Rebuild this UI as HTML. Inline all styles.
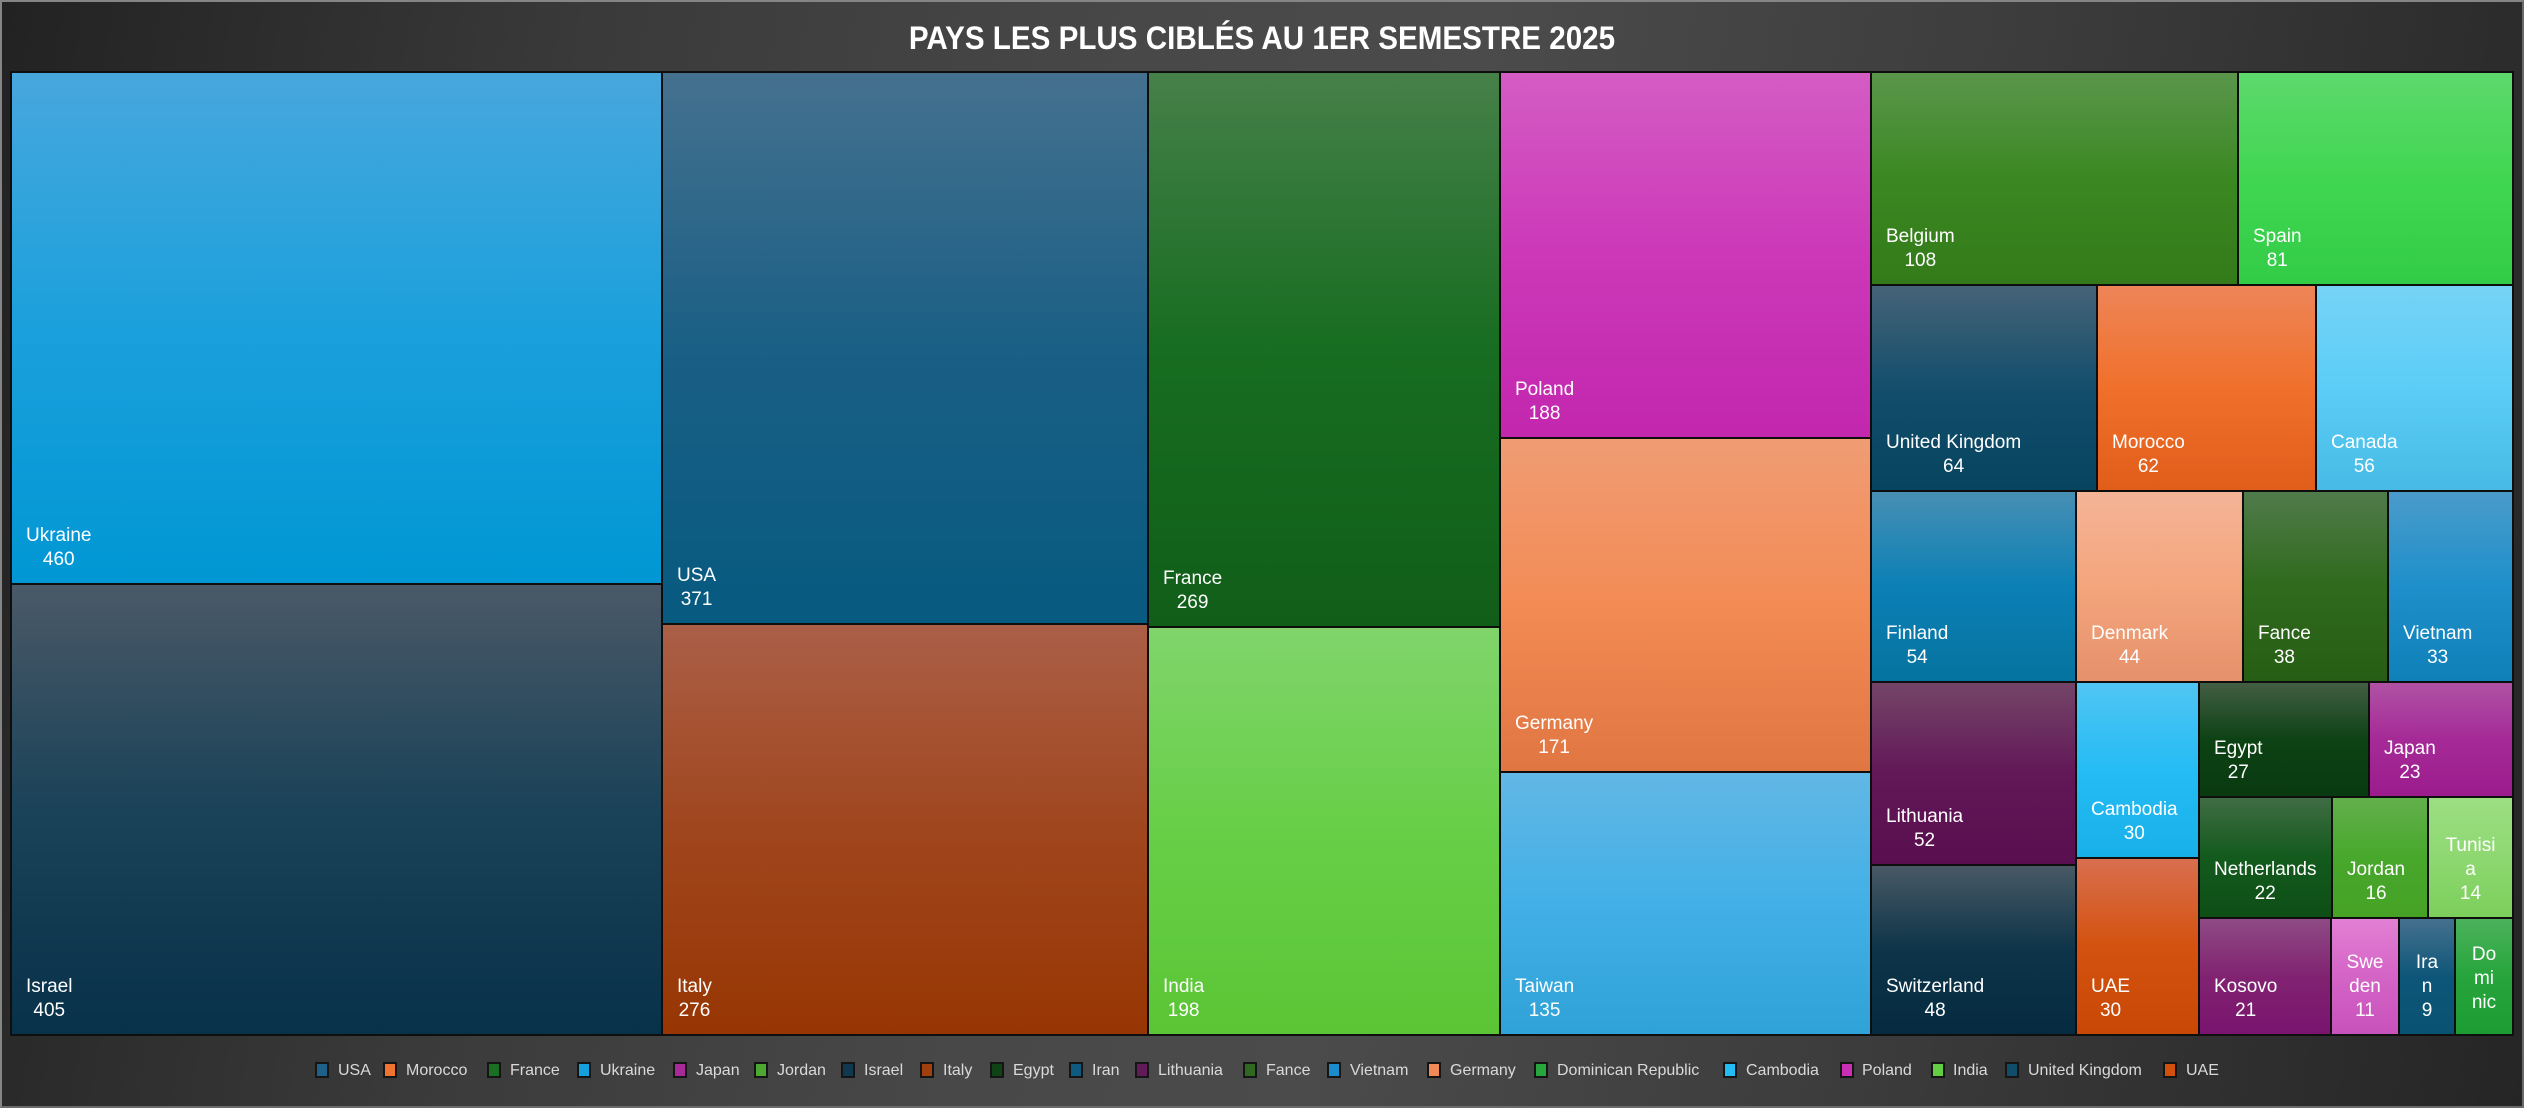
<!DOCTYPE html>
<html>
<head>
<meta charset="utf-8">
<style>
  html, body { margin:0; padding:0; }
  body {
    width:2524px; height:1108px; overflow:hidden; position:relative;
    background: linear-gradient(100deg, #222222 0%, #3a3a3a 22%, #484848 42%, #4b4b4b 55%, #3c3c3c 75%, #252525 100%);
    font-family: "Liberation Sans", sans-serif;
  }
  .frame { position:absolute; left:0; top:0; width:2524px; height:1108px; box-sizing:border-box; border:2px solid #858585; border-right-color:#6a6a6a; border-bottom-color:#6a6a6a; }
  .title {
    position:absolute; left:0; top:22px; width:2524px; text-align:center;
    font: bold 32px/32px "Liberation Sans", sans-serif; color:#ffffff;
    transform: scaleX(0.925); transform-origin: 1262px 0;
    white-space:nowrap;
  }
  .tm { position:absolute; left:10px; top:71px; width:2504px; height:965px; box-sizing:border-box; border:1px solid #0f0f0f; }
  .r { position:absolute; box-sizing:border-box; border:1px solid #0e0e0e; overflow:hidden; }
  .l { position:absolute; left:14px; bottom:11px; text-align:center; font:19px/24px "Liberation Sans", sans-serif; color:#ffffff; white-space:nowrap; }
  .c { left:0; right:0; }
  .lg { position:absolute; top:1061px; font:16px/20px "Liberation Sans", sans-serif; color:#d9d9d9; white-space:nowrap; }
  .sw { position:absolute; top:1062px; width:14px; height:16px; box-sizing:border-box; border:2px solid #151515; }
</style>
</head>
<body>
<div class="frame"></div>
<div class="title">PAYS LES PLUS CIBLÉS AU 1ER SEMESTRE 2025</div>

<div class="tm"></div>

<!-- Column 1 -->
<div class="r" style="left:11px;top:72px;width:651px;height:512px;background:linear-gradient(to bottom,#47a7dd 0%,#1ba0dc 50%,#0097d4 100%);">
  <div class="l">Ukraine<br>460</div></div>
<div class="r" style="left:11px;top:584px;width:651px;height:451px;background:linear-gradient(to bottom,#4a5967 0%,#1a4258 50%,#08314a 100%);">
  <div class="l">Israel<br>405</div></div>

<!-- Column 2 -->
<div class="r" style="left:662px;top:72px;width:486px;height:552px;background:linear-gradient(to bottom,#45718f 0%,#1a5f85 50%,#075a80 100%);">
  <div class="l">USA<br>371</div></div>
<div class="r" style="left:662px;top:624px;width:486px;height:411px;background:linear-gradient(to bottom,#ab5f47 0%,#a0461e 50%,#973603 100%);">
  <div class="l">Italy<br>276</div></div>

<!-- Column 3 -->
<div class="r" style="left:1148px;top:72px;width:352px;height:555px;background:linear-gradient(to bottom,#468049 0%,#176d21 50%,#115e19 100%);">
  <div class="l">France<br>269</div></div>
<div class="r" style="left:1148px;top:627px;width:352px;height:408px;background:linear-gradient(to bottom,#80d46b 0%,#67cf47 50%,#5bc535 100%);">
  <div class="l">India<br>198</div></div>

<!-- Column 4 -->
<div class="r" style="left:1500px;top:72px;width:371px;height:366px;background:linear-gradient(to bottom,#d45cc4 0%,#cc38b8 50%,#c227ae 100%);">
  <div class="l">Poland<br>188</div></div>
<div class="r" style="left:1500px;top:438px;width:371px;height:334px;background:linear-gradient(to bottom,#f09c74 0%,#f38b55 50%,#e07642 100%);">
  <div class="l">Germany<br>171</div></div>
<div class="r" style="left:1500px;top:772px;width:371px;height:263px;background:linear-gradient(to bottom,#62b7e5 0%,#42b0e6 50%,#2fa2d8 100%);">
  <div class="l">Taiwan<br>135</div></div>

<!-- Right block row 1 -->
<div class="r" style="left:1871px;top:72px;width:367px;height:213px;background:linear-gradient(to bottom,#5a964b 0%,#3b8822 50%,#347a1a 100%);">
  <div class="l">Belgium<br>108</div></div>
<div class="r" style="left:2238px;top:72px;width:275px;height:213px;background:linear-gradient(to bottom,#5ed96d 0%,#40d651 50%,#33cc46 100%);">
  <div class="l">Spain<br>81</div></div>

<!-- row 2 -->
<div class="r" style="left:1871px;top:285px;width:226px;height:206px;background:linear-gradient(to bottom,#456377 0%,#134e6c 50%,#06445f 100%);">
  <div class="l">United Kingdom<br>64</div></div>
<div class="r" style="left:2097px;top:285px;width:219px;height:206px;background:linear-gradient(to bottom,#ee8558 0%,#f0702b 50%,#e05d1a 100%);">
  <div class="l">Morocco<br>62</div></div>
<div class="r" style="left:2316px;top:285px;width:197px;height:206px;background:linear-gradient(to bottom,#76d3f6 0%,#5bcdf7 50%,#47bbe5 100%);">
  <div class="l">Canada<br>56</div></div>

<!-- row 3 -->
<div class="r" style="left:1871px;top:491px;width:205px;height:191px;background:linear-gradient(to bottom,#478fb4 0%,#0b80b5 50%,#06739f 100%);">
  <div class="l">Finland<br>54</div></div>
<div class="r" style="left:2076px;top:491px;width:167px;height:191px;background:linear-gradient(to bottom,#f4b497 0%,#f4a57c 50%,#e5916b 100%);">
  <div class="l">Denmark<br>44</div></div>
<div class="r" style="left:2243px;top:491px;width:145px;height:191px;background:linear-gradient(to bottom,#507b4a 0%,#2f6a1d 50%,#275e15 100%);">
  <div class="l">Fance<br>38</div></div>
<div class="r" style="left:2388px;top:491px;width:125px;height:191px;background:linear-gradient(to bottom,#4a9bcb 0%,#1e8fca 50%,#0f80b8 100%);">
  <div class="l">Vietnam<br>33</div></div>

<!-- lower block -->
<div class="r" style="left:1871px;top:682px;width:205px;height:183px;background:linear-gradient(to bottom,#744568 0%,#621857 50%,#590f4f 100%);">
  <div class="l">Lithuania<br>52</div></div>
<div class="r" style="left:1871px;top:865px;width:205px;height:170px;background:linear-gradient(to bottom,#485964 0%,#0d3449 50%,#062b40 100%);">
  <div class="l">Switzerland<br>48</div></div>
<div class="r" style="left:2076px;top:682px;width:123px;height:176px;background:linear-gradient(to bottom,#50c5f2 0%,#25bcf5 50%,#18b0e8 100%);">
  <div class="l">Cambodia<br>30</div></div>
<div class="r" style="left:2076px;top:858px;width:123px;height:177px;background:linear-gradient(to bottom,#d86f4f 0%,#d4520f 50%,#c94805 100%);">
  <div class="l">UAE<br>30</div></div>

<div class="r" style="left:2199px;top:682px;width:170px;height:115px;background:linear-gradient(to bottom,#435e44 0%,#0d4214 50%,#093a10 100%);">
  <div class="l">Egypt<br>27</div></div>
<div class="r" style="left:2369px;top:682px;width:144px;height:115px;background:linear-gradient(to bottom,#b052a4 0%,#a52a97 50%,#9c1c8d 100%);">
  <div class="l">Japan<br>23</div></div>

<div class="r" style="left:2199px;top:797px;width:133px;height:121px;background:linear-gradient(to bottom,#406c44 0%,#135a1d 50%,#0e4e16 100%);">
  <div class="l">Netherlands<br>22</div></div>
<div class="r" style="left:2332px;top:797px;width:96px;height:121px;background:linear-gradient(to bottom,#62b04b 0%,#48a82c 50%,#45a225 100%);">
  <div class="l">Jordan<br>16</div></div>
<div class="r" style="left:2428px;top:797px;width:85px;height:121px;background:linear-gradient(to bottom,#9cde83 0%,#8ed871 50%,#7ccf5b 100%);">
  <div class="l c">Tunisi<br>a<br>14</div></div>

<div class="r" style="left:2199px;top:918px;width:132px;height:117px;background:linear-gradient(to bottom,#8e4b85 0%,#812371 50%,#7a1470 100%);">
  <div class="l">Kosovo<br>21</div></div>
<div class="r" style="left:2331px;top:918px;width:68px;height:117px;background:linear-gradient(to bottom,#e280d4 0%,#d464c6 50%,#c852bb 100%);">
  <div class="l c">Swe<br>den<br>11</div></div>
<div class="r" style="left:2399px;top:918px;width:56px;height:117px;background:linear-gradient(to bottom,#45718e 0%,#0e5679 50%,#0a5272 100%);">
  <div class="l c">Ira<br>n<br>9</div></div>
<div class="r" style="left:2455px;top:918px;width:58px;height:117px;background:linear-gradient(to bottom,#4bb25b 0%,#27a53c 50%,#1c9c32 100%);">
  <div class="l c" style="bottom:19px;">Do<br>mi<br>nic</div></div>

<!-- Legend -->
<div class="sw" style="left:315px;background:#1d6189;"></div><div class="lg" style="left:338px;">USA</div>
<div class="sw" style="left:383px;background:#f07430;"></div><div class="lg" style="left:406px;">Morocco</div>
<div class="sw" style="left:487px;background:#1a6f25;"></div><div class="lg" style="left:510px;">France</div>
<div class="sw" style="left:577px;background:#14a0dd;"></div><div class="lg" style="left:600px;">Ukraine</div>
<div class="sw" style="left:673px;background:#a82a99;"></div><div class="lg" style="left:696px;">Japan</div>
<div class="sw" style="left:754px;background:#4ca830;"></div><div class="lg" style="left:777px;">Jordan</div>
<div class="sw" style="left:841px;background:#10384f;"></div><div class="lg" style="left:864px;">Israel</div>
<div class="sw" style="left:920px;background:#a0400f;"></div><div class="lg" style="left:943px;">Italy</div>
<div class="sw" style="left:990px;background:#0f4316;"></div><div class="lg" style="left:1013px;">Egypt</div>
<div class="sw" style="left:1069px;background:#0f5a80;"></div><div class="lg" style="left:1092px;">Iran</div>
<div class="sw" style="left:1135px;background:#621a58;"></div><div class="lg" style="left:1158px;">Lithuania</div>
<div class="sw" style="left:1243px;background:#2f6820;"></div><div class="lg" style="left:1266px;">Fance</div>
<div class="sw" style="left:1327px;background:#1b8ccb;"></div><div class="lg" style="left:1350px;">Vietnam</div>
<div class="sw" style="left:1427px;background:#f18a55;"></div><div class="lg" style="left:1450px;">Germany</div>
<div class="sw" style="left:1534px;background:#26a63d;"></div><div class="lg" style="left:1557px;">Dominican Republic</div>
<div class="sw" style="left:1723px;background:#22bbf3;"></div><div class="lg" style="left:1746px;">Cambodia</div>
<div class="sw" style="left:1840px;background:#c92fb5;"></div><div class="lg" style="left:1862px;">Poland</div>
<div class="sw" style="left:1931px;background:#62cc43;"></div><div class="lg" style="left:1953px;">India</div>
<div class="sw" style="left:2005px;background:#0f4d6b;"></div><div class="lg" style="left:2028px;">United Kingdom</div>
<div class="sw" style="left:2163px;background:#d0500c;"></div><div class="lg" style="left:2186px;">UAE</div>
</body>
</html>
